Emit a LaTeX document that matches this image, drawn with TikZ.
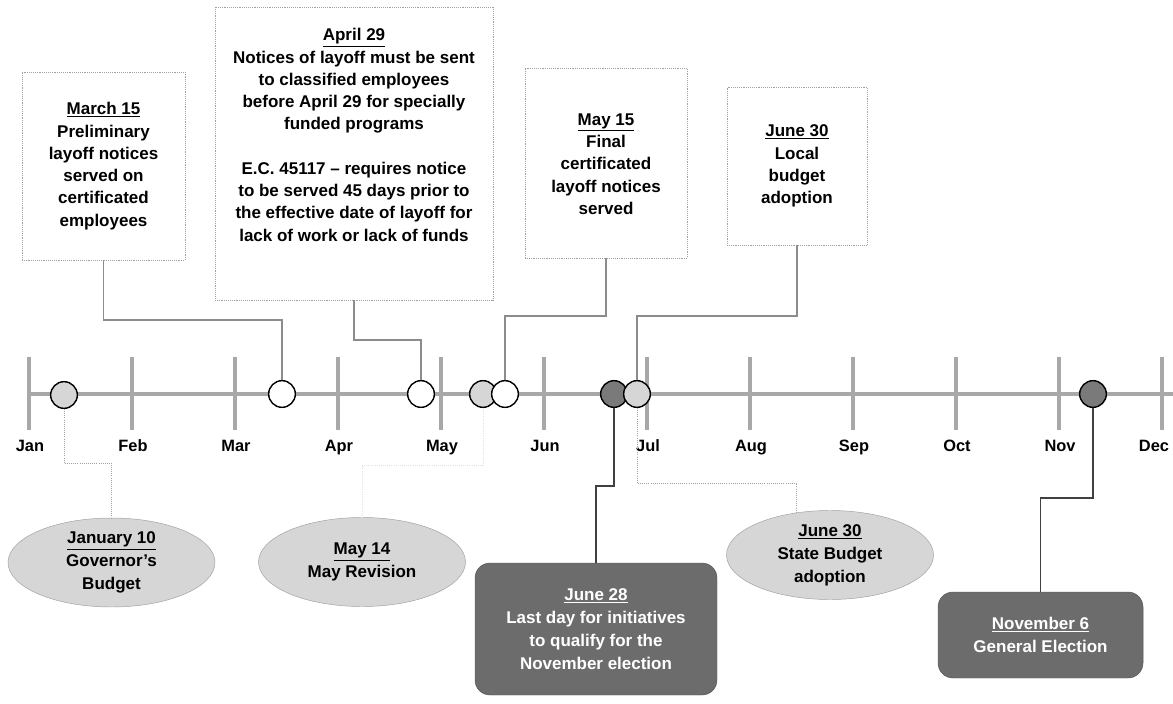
\documentclass[tikz,border=0pt]{standalone}
\usepackage{fontspec}
\setmainfont{Liberation Sans}
\usetikzlibrary{shapes.geometric}

\definecolor{axisgray}{HTML}{A8A8A8}
\definecolor{boxgray}{HTML}{A0A0A0}
\definecolor{linkgray}{HTML}{8C8C8C}
\definecolor{lightfill}{HTML}{D6D6D6}
\definecolor{darkfill}{HTML}{6C6C6C}
\definecolor{dotfill}{HTML}{7A7A7A}

\begin{document}
\begin{tikzpicture}[x=0.03cm, y=-0.03cm,
  notebox/.style={draw=boxgray, densely dotted, line width=0.6pt},
  txt/.style={align=center, font=\fontsize{14.5}{19}\selectfont\bfseries},
  oval/.style={ellipse, draw=boxgray, fill=lightfill, minimum width=6.21cm, minimum height=2.67cm, inner sep=0pt, align=center, font=\fontsize{14.5}{19.5}\selectfont\bfseries},
  darkbox/.style={draw=darkfill!80!black, fill=darkfill, rounded corners=0.45cm, text=white, align=center, font=\fontsize{14.5}{19.5}\selectfont\bfseries},
  evt/.style={circle, draw=black, line width=1.2pt, minimum size=0.8cm, inner sep=0pt},
  month/.style={font=\fontsize{14}{16}\selectfont\bfseries, text height=1.6ex, text depth=0.45ex},
  tickln/.style={draw=axisgray, line width=3.4pt},
  link/.style={draw=linkgray, line width=1.6pt},
  faint/.style={draw=boxgray, densely dotted, line width=0.8pt},
  strong/.style={draw=black!75, line width=1.6pt}
]
\useasboundingbox (0,0) rectangle (1173,704);

% timeline
\draw[tickln] (29,394) -- (1173,394);
\foreach \m [count=\i from 0] in {Jan,Feb,Mar,Apr,May,Jun,Jul,Aug,Sep,Oct,Nov} {
  \draw[tickln] (29+103*\i,357) -- (29+103*\i,430);
  \node[month] (m-\m) at (30+103*\i,448) {\m};
}
\draw[tickln] (1162,357) -- (1162,430);
\node[month] (m-Dec) at (1154,448) {Dec};

% events on the line
\node[evt, fill=lightfill] (c-jan10) at (64,395) {};
\node[evt, fill=white] (c-mar15) at (282,394) {};
\node[evt, fill=white] (c-apr29) at (421,394) {};
\node[evt, fill=lightfill] (c-may14) at (483,394) {};
\node[evt, fill=white] (c-may15) at (505,394) {};
\node[evt, fill=dotfill] (c-jun28) at (614,394) {};
\node[evt, fill=lightfill] (c-jun30) at (637,394) {};
\node[evt, fill=dotfill] (c-nov6) at (1093,394) {};

% notices above
\node[notebox, minimum width=4.89cm, minimum height=5.64cm] (mar15) at (103.5,166) {};
\node[txt] (mar15txt) at (103.5,166) {\underline{March 15}\\Preliminary\\layoff notices\\served on\\certificated\\employees};

\node[notebox, minimum width=8.34cm, minimum height=8.79cm] (apr29) at (354,153.5) {};
\node[txt] (apr29txt) at (354,135) {\underline{April 29}\\Notices of layoff must be sent\\to classified employees\\before April 29 for specially\\funded programs\\[19pt]E.C. 45117 -- requires notice\\to be served 45 days prior to\\the effective date of layoff for\\lack of work or lack of funds};

\node[notebox, minimum width=4.86cm, minimum height=5.7cm] (may15) at (606,163) {};
\node[txt] (may15txt) at (606,164) {\underline{May 15}\\Final\\certificated\\layoff notices\\served};

\node[notebox, minimum width=4.2cm, minimum height=4.74cm] (jun30) at (797,166) {};
\node[txt] (jun30txt) at (797,166) {\underline{June 30}\\Local\\budget\\adoption};

\draw[link] (mar15.south) -- ++(0,60) -| (c-mar15.north);
\draw[link] (apr29.south) -- ++(0,40) -| (c-apr29.north);
\draw[link] (may15.south) -- ++(0,58) -| (c-may15.north);
\draw[link] (jun30.south) -- ++(0,71) -| (c-jun30.north);

% budget and election dates below
\node[oval] (jan10) at (111.5,562.5) {\underline{January 10}\\Governor's\\Budget};
\node[oval] (may14) at (362,562) {\underline{May 14}\\May Revision};
\node[oval] (stbud) at (830,555) {\underline{June 30}\\State Budget\\adoption};
\node[darkbox, minimum width=7.26cm, minimum height=3.96cm] (jun28) at (596,629) {\underline{June 28}\\Last day for initiatives\\to qualify for the\\November election};
\node[darkbox, minimum width=6.15cm, minimum height=2.58cm] (nov6) at (1040.5,635) {\underline{November 6}\\General Election};

\draw[faint] (c-jan10.south) -- ++(0,54) -| (jan10.north);
\draw[faint, draw=black!12] (c-may14.south) -- ++(0,57) -| (may14.north);
\draw[strong] (c-jun28.south) -- ++(0,78) -| (jun28.north);
\draw[faint] (c-jun30.south) -- ++(0,75) -| (stbud.128);
\draw[strong] (c-nov6.south) -- ++(0,90) -| (nov6.north);
\end{tikzpicture}
\end{document}
